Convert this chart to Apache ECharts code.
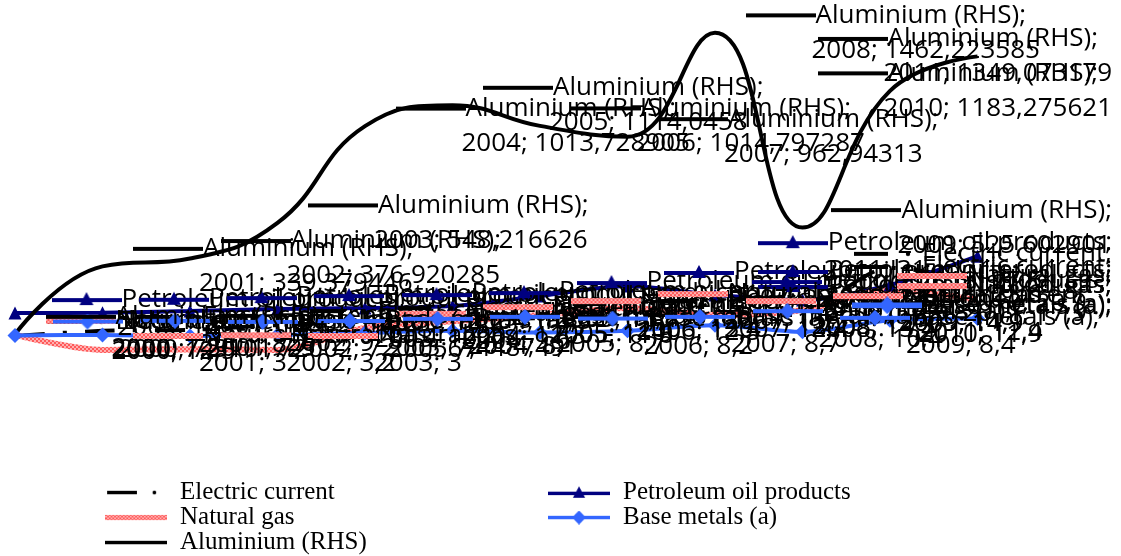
<!DOCTYPE html>
<html>
<head>
<meta charset="utf-8">
<script src="https://cdn.jsdelivr.net/npm/echarts@6/dist/echarts.min.js"></script>
<style>
html,body{margin:0;padding:0;background:#fff;}
#chart{width:1121px;height:556px;}
</style>
</head>
<body>
<div id="chart"></div>
<script>
// ---- data (small-series values are estimates) ----
const years = ['2000','2001','2002','2003','2004','2005','2006','2007','2008','2009','2010','2011'];
const electricCurrent = [7.2, 8.7, 9.0, 10.4, 11.3, 11.9, 12.5, 13.4, 14.3, 14.9, 27.5, 23.6];
const petroleumOil    = [14.0, 14.1, 14.6, 15.2, 15.5, 16.1, 19.1, 22.095484, 19.4, 17.9, 22.4, 31.0];
const naturalGas      = [7.5, 3.0, 3.2, 3.0, 9.6, 11.6, 13.4, 15.5, 13.4, 14.9, 20.9, 17.9];
const baseMetals      = [7.310172, 7.5, 7.200567, 7.448749, 8.1, 8.7, 8.2, 8.7, 10.4, 8.4, 11.9, 12.4];
const aluminium       = [12.5, 339.379446, 376.920285, 548.216626, 1013.728905, 1114.0458, 1014.797287, 962.94313, 1462.223585, 525.602901, 1183.275621, 1349.073179];

const NAME_EC = 'Electric current';
const NAME_PO = 'Petroleum oil products';
const NAME_NG = 'Natural gas';
const NAME_BM = 'Base metals (a)';
const NAME_AL = 'Aluminium (RHS)';
const legendColA = [NAME_EC, NAME_NG, NAME_AL];
const legendColB = [NAME_PO, NAME_BM];

// ---- styles ----
const NAVY = '#000080';
const BLUE = '#3366FF';
const LABEL_FONT = '"Open Sans", "Noto Sans", sans-serif';
const LEGEND_FONT = '"Liberation Serif", "Times New Roman", serif';

function gasPattern() {
  const c = document.createElement('canvas');
  c.width = 4; c.height = 4;
  const g = c.getContext('2d');
  g.fillStyle = '#ffffff'; g.fillRect(0, 0, 4, 4);
  g.fillStyle = '#ff5a5a';
  g.fillRect(0, 0, 2, 2); g.fillRect(2, 2, 2, 2);
  g.fillStyle = '#ffb0b0';
  g.fillRect(2, 0, 2, 2); g.fillRect(0, 2, 2, 2);
  return c;
}
const gasImg = gasPattern();

function makeKey(kind) {
  const c = document.createElement('canvas');
  c.width = 70; c.height = 16;
  const g = c.getContext('2d');
  g.lineWidth = 4;
  if (kind === 'ec') {
    g.strokeStyle = '#000'; g.beginPath(); g.moveTo(2, 8); g.lineTo(36, 8); g.stroke();
    g.fillStyle = '#000'; g.beginPath(); g.arc(56, 8, 2.2, 0, Math.PI * 2); g.fill();
  } else if (kind === 'po') {
    g.strokeStyle = NAVY; g.beginPath(); g.moveTo(0, 9); g.lineTo(70, 9); g.stroke();
    g.fillStyle = NAVY; g.beginPath(); g.moveTo(35, 1); g.lineTo(42, 14); g.lineTo(28, 14); g.closePath(); g.fill();
  } else if (kind === 'ng') {
    g.fillStyle = g.createPattern(gasImg, 'repeat'); g.fillRect(0, 5, 70, 6);
  } else if (kind === 'bm') {
    g.strokeStyle = BLUE; g.beginPath(); g.moveTo(0, 8); g.lineTo(70, 8); g.stroke();
    g.fillStyle = BLUE; g.beginPath(); g.moveTo(35, 0); g.lineTo(43, 8); g.lineTo(35, 16); g.lineTo(27, 8); g.closePath(); g.fill();
  } else {
    g.strokeStyle = '#000'; g.beginPath(); g.moveTo(0, 8); g.lineTo(70, 8); g.stroke();
  }
  return c;
}
const keys = { ec: makeKey('ec'), po: makeKey('po'), ng: makeKey('ng'), bm: makeKey('bm'), al: makeKey('al') };
const keyOf = {};
keyOf[NAME_EC] = 'ec'; keyOf[NAME_PO] = 'po'; keyOf[NAME_NG] = 'ng'; keyOf[NAME_BM] = 'bm'; keyOf[NAME_AL] = 'al';

function fmt(v) { return String(v).replace('.', ','); }

function makeLabel(name, kind, lh) {
  return {
    show: true,
    position: 'right',
    distance: 30,
    formatter: function (p) {
      return '{k|}{t|' + name + ';}\n{s|}{t|' + p.name + '; ' + fmt(p.value) + '}';
    },
    rich: {
      k: { width: 70, height: 16, backgroundColor: { image: keys[kind] } },
      s: { width: 66, height: 4 },
      t: { fontFamily: LABEL_FONT, fontSize: 26, lineHeight: lh, color: '#000' }
    }
  };
}

// keep labels inside the chart's right edge, like the original
function pushInside(params) {
  const r = params.labelRect;
  if (r.x + r.width > 1112) {
    return { x: 1112 - r.width, y: r.y + r.height / 2, align: 'left', verticalAlign: 'middle' };
  }
  return {};
}

function legendItems(names) {
  return names.map(function (n) {
    return { name: n, icon: 'image://' + keys[keyOf[n]].toDataURL() };
  });
}

const hiddenPoint = { color: 'rgba(0,0,0,0)', borderWidth: 0 };

const legendBase = {
  orient: 'vertical', top: 480, height: 90, padding: 0,
  itemWidth: 62, itemHeight: 14, itemGap: 0,
  textStyle: { fontFamily: LEGEND_FONT, fontSize: 25, lineHeight: 25, color: '#000', padding: [0, 0, 0, 8] }
};

const chart = echarts.init(document.getElementById('chart'), null, { renderer: 'canvas' });
chart.setOption({
  animation: false,
  backgroundColor: '#ffffff',
  grid: { left: 15, right: 143.5, top: 25, bottom: 196 },
  xAxis: { type: 'category', data: years, boundaryGap: false, show: false },
  yAxis: [
    { type: 'value', min: 0, max: 100, show: false },
    { type: 'value', min: -111, max: 1500, show: false }
  ],
  legend: [
    Object.assign({}, legendBase, { data: legendItems(legendColA), left: 105 }),
    Object.assign({}, legendBase, { data: legendItems(legendColB), left: 548 })
  ],
  series: [
    {
      name: NAME_EC, type: 'line', data: electricCurrent, yAxisIndex: 0, smooth: 0.3,
      symbol: 'circle', symbolSize: 1, showSymbol: true,
      lineStyle: { color: '#000', width: 4, type: [30, 18, 4, 18] },
      itemStyle: hiddenPoint,
      label: makeLabel('Electric current', 'ec', 28), labelLayout: pushInside
    },
    {
      name: NAME_PO, type: 'line', data: petroleumOil, yAxisIndex: 0, smooth: 0.3,
      symbol: 'triangle', symbolSize: 13, showSymbol: true,
      lineStyle: { color: NAVY, width: 4 }, itemStyle: { color: NAVY },
      label: makeLabel('Petroleum oil products', 'po', 28), labelLayout: pushInside
    },
    {
      name: NAME_NG, type: 'line', data: naturalGas, yAxisIndex: 0, smooth: 0.3,
      symbol: 'circle', symbolSize: 1, showSymbol: true,
      lineStyle: { color: { image: gasImg, repeat: 'repeat' }, width: 6 },
      itemStyle: hiddenPoint,
      label: makeLabel('Natural gas', 'ng', 28), labelLayout: pushInside
    },
    {
      name: NAME_BM, type: 'line', data: baseMetals, yAxisIndex: 0, smooth: 0.3,
      symbol: 'diamond', symbolSize: 15, showSymbol: true,
      lineStyle: { color: BLUE, width: 4 }, itemStyle: { color: BLUE },
      label: makeLabel('Base metals (a)', 'bm', 28), labelLayout: pushInside
    },
    {
      name: NAME_AL, type: 'line', data: aluminium, yAxisIndex: 1, smooth: 0.45,
      symbol: 'circle', symbolSize: 1, showSymbol: true,
      lineStyle: { color: '#000', width: 4 }, itemStyle: hiddenPoint,
      z: 3,
      label: makeLabel('Aluminium (RHS)', 'al', 35), labelLayout: pushInside
    }
  ]
});
</script>
</body>
</html>
